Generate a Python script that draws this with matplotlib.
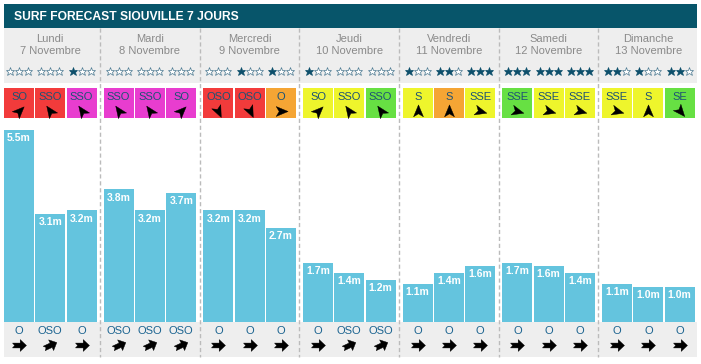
import numpy as np
import matplotlib
matplotlib.use('agg')
import matplotlib.pyplot as plt
from matplotlib.path import Path
from matplotlib.markers import MarkerStyle
from matplotlib.transforms import Affine2D
from matplotlib.patches import Rectangle

plt.rcParams['font.family'] = ['Liberation Sans', 'DejaVu Sans']

########
# Data #
########

title = 'SURF FORECAST SIOUVILLE 7 JOURS'
days = ['Lundi', 'Mardi', 'Mercredi', 'Jeudi', 'Vendredi', 'Samedi', 'Dimanche']
dates = ['7 Novembre', '8 Novembre', '9 Novembre', '10 Novembre',
         '11 Novembre', '12 Novembre', '13 Novembre']

# 3 slots per day
wave_height = [5.5, 3.1, 3.2, 3.8, 3.2, 3.7, 3.2, 3.2, 2.7, 1.7, 1.4, 1.2,
               1.1, 1.4, 1.6, 1.7, 1.6, 1.4, 1.1, 1.0, 1.0]
stars = [0, 0, 1, 0, 0, 0, 0, 1, 1, 1, 0, 0, 1, 2, 3, 3, 3, 3, 2, 1, 2]
wind_dir = ['SO', 'SSO', 'SSO', 'SSO', 'SSO', 'SO', 'OSO', 'OSO', 'O',
            'SO', 'SSO', 'SSO', 'S', 'S', 'SSE', 'SSE', 'SSE', 'SSE',
            'SSE', 'S', 'SE']
wind_class = ['red', 'red', 'magenta', 'magenta', 'magenta', 'magenta',
              'red', 'red', 'orange', 'yellow', 'yellow', 'green',
              'yellow', 'orange', 'yellow', 'green', 'yellow', 'yellow',
              'yellow', 'yellow', 'green']
swell_dir = ['O', 'OSO', 'O', 'OSO', 'OSO', 'OSO', 'O', 'O', 'O',
             'O', 'OSO', 'OSO', 'O', 'O', 'O', 'O', 'O', 'O', 'O', 'O', 'O']

#########
# Style #
#########

W, H = 701, 364
teal = '#07556a'
gray_bg = '#eeeeee'
bar_color = '#64c4de'
label_color = '#1d5275'
class_colors = {'red': '#f23b3b', 'magenta': '#e83dcf', 'orange': '#f5a534',
                'yellow': '#eef52c', 'green': '#67e043'}
# screen angle of the wind arrows (as drawn on the widget)
wind_angle = {'O': 0, 'OSO': -65, 'SO': 45, 'SSO': 125, 'S': 90,
              'SSE': -15, 'SE': -50}
swell_angle = {'O': 0, 'OSO': 25}

left, right = 4, 697
day_pitch = 99.67
slot_pitch = 31.3
slot_w = 30
px_per_m = 34.9
bar_bottom = 322
bar_top = 120

n = len(wave_height)
slot_left = np.array([left + (i // 3) * day_pitch + (i % 3) * slot_pitch for i in range(n)])
slot_c = slot_left + slot_w / 2

nav_arrow = Path([(1, 0), (-0.8, 0.75), (-0.35, 0), (-0.8, -0.75), (1, 0)],
                 [Path.MOVETO, Path.LINETO, Path.LINETO, Path.LINETO, Path.CLOSEPOLY])
fat_arrow = Path([(-1, -0.35), (0.1, -0.35), (0.1, -0.85), (1, 0), (0.1, 0.85),
                  (0.1, 0.35), (-1, 0.35), (-0.7, 0), (-1, -0.35)])


def rotated(path, angle):
    return MarkerStyle(path, transform=Affine2D().rotate_deg(angle))


fig = plt.figure(figsize=(W / 100, H / 100), dpi=100)
fig.patch.set_facecolor('white')

# overlay axes in pixel coords
ax0 = fig.add_axes([0, 0, 1, 1])
ax0.set_xlim(0, W)
ax0.set_ylim(H, 0)
ax0.axis('off')

# title bar
ax0.add_patch(Rectangle((left, 4), right - left, 24, color=teal, lw=0))
ax0.text(14, 16.5, title, color='white', fontsize=8.7, fontweight='bold',
         va='center', ha='left')

# grey header and footer
ax0.add_patch(Rectangle((left, 28), right - left, 55, color=gray_bg, lw=0))
ax0.add_patch(Rectangle((left, bar_bottom), right - left, 35, color=gray_bg, lw=0))

# day dividers
for d in range(1, 7):
    x = left + d * day_pitch - 3.6
    ax0.plot([x, x], [28, 357], color='#bbbbbb', lw=1, ls=(0, (3, 2)))

# day names
for d in range(7):
    xc = left + d * day_pitch + (2 * slot_pitch + slot_w) / 2
    ax0.text(xc, 39.5, days[d], color='#8a8a8a', fontsize=8, ha='center', va='center')
    ax0.text(xc, 51, dates[d], color='#8a8a8a', fontsize=8, ha='center', va='center')

# stars, wind boxes, swell
for i in range(n):
    for k in range(3):
        filled = k < stars[i]
        ax0.plot(slot_c[i] + (k - 1) * 9.0, 70.5, marker='*', ms=6.4,
                 mfc='#0d4f6b' if filled else 'white',
                 mec='#0d4f6b' if filled else '#4a7890', mew=0.5)

    ax0.add_patch(Rectangle((slot_left[i], 88), slot_w, 30,
                            color=class_colors[wind_class[i]], lw=0))
    ax0.text(slot_c[i], 96.5, wind_dir[i], color=label_color, fontsize=8,
             ha='center', va='center')
    ax0.plot(slot_c[i], 110.5, marker=rotated(nav_arrow, wind_angle[wind_dir[i]]),
             ms=9.5, color='black', mec='black', mew=0.3)

    ax0.text(slot_c[i], 331, swell_dir[i], color='#1a6390', fontsize=8,
             ha='center', va='center')
    ax0.plot(slot_c[i], 344.5, marker=rotated(fat_arrow, swell_angle[swell_dir[i]]),
             ms=10, color='black', mec='black', mew=0.3)

# bars axes (metres)
ax = fig.add_axes([0, (H - bar_bottom) / H, 1, (bar_bottom - bar_top) / H])
ax.set_xlim(0, W)
ax.set_ylim(0, (bar_bottom - bar_top) / px_per_m)
ax.axis('off')
ax.patch.set_alpha(0)

ax.bar(slot_c, wave_height, width=slot_w, color=bar_color, lw=0)
for x, h in zip(slot_c, wave_height):
    ax.annotate('%.1fm' % h, (x, h), xytext=(0, -6), textcoords='offset points',
                color='white', fontsize=7.5, fontweight='bold', ha='center', va='center')

plt.savefig('out.png', dpi=100)
